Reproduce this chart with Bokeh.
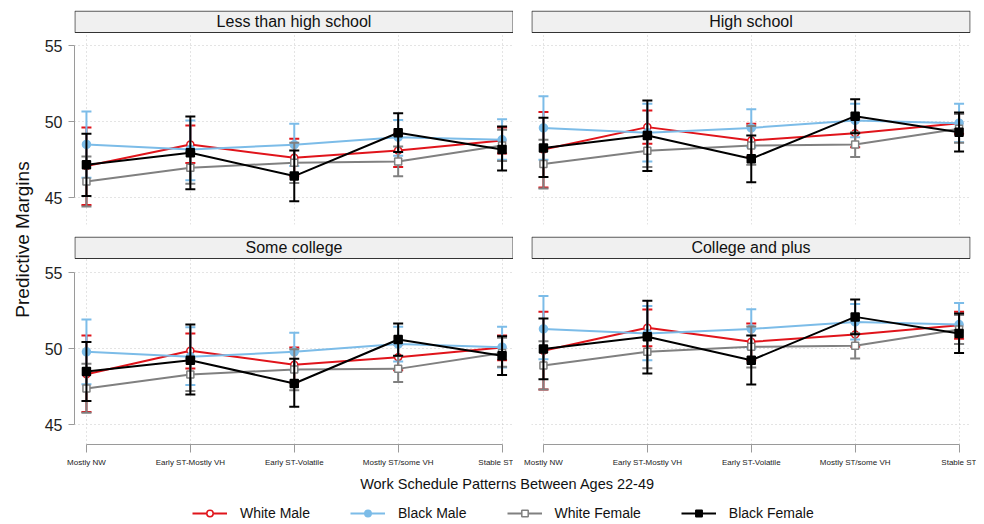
import math
from bokeh.plotting import figure
from bokeh.layouts import row, column
from bokeh.models import (Range1d, FixedTicker, Grid, Legend, LegendItem,
                          LinearAxis, ColumnDataSource)
from bokeh.core.properties import value
from bokeh.embed import file_html
from bokeh.resources import INLINE

# ---------------- data ----------------
categories = ["Mostly NW", "Early ST-Mostly VH", "Early ST-Volatile",
              "Mostly ST/some VH", "Stable ST"]
panels = ["Less than high school", "High school", "Some college", "College and plus"]
series = ["White Male", "Black Male", "White Female", "Black Female"]
y_ticks = [45, 50, 55]

white_male_mean = [[47.07, 48.49, 47.61, 48.10, 48.75],
                   [48.16, 49.63, 48.75, 49.23, 49.89],
                   [48.31, 49.85, 48.93, 49.43, 50.07],
                   [49.85, 51.36, 50.44, 50.92, 51.53]]
white_male_lo = [[44.50, 47.27, 46.40, 47.00, 47.90],
                 [45.65, 48.53, 47.66, 48.30, 49.20],
                 [45.83, 48.68, 47.76, 48.57, 49.23],
                 [47.30, 50.15, 49.23, 50.11, 50.64]]
white_male_hi = [[49.60, 49.74, 48.86, 49.20, 49.60],
                 [50.63, 50.72, 49.85, 50.18, 50.50],
                 [50.86, 50.99, 50.07, 50.26, 50.86],
                 [52.41, 52.57, 51.64, 51.75, 52.41]]

black_male_mean = [[48.49, 48.16, 48.47, 48.97, 48.80],
                   [49.58, 49.26, 49.58, 50.07, 49.89],
                   [49.78, 49.45, 49.78, 50.29, 50.09],
                   [51.29, 50.99, 51.29, 51.75, 51.58]]
black_male_lo = [[46.30, 46.13, 47.07, 47.75, 47.48],
                 [47.48, 47.37, 48.30, 48.97, 48.64],
                 [47.65, 47.60, 48.57, 49.14, 48.75],
                 [49.30, 49.23, 50.00, 50.59, 50.29]]
black_male_hi = [[50.66, 50.07, 49.85, 50.10, 50.15],
                 [51.66, 51.16, 50.81, 51.16, 51.16],
                 [51.90, 51.40, 51.03, 51.43, 51.43],
                 [53.46, 52.79, 52.59, 52.92, 53.00]]

white_female_mean = [[46.06, 46.96, 47.29, 47.37, 48.42],
                     [47.20, 48.07, 48.42, 48.49, 49.52],
                     [47.37, 48.29, 48.62, 48.66, 49.71],
                     [48.88, 49.78, 50.11, 50.18, 51.25]]
white_female_lo = [[44.40, 45.90, 45.95, 46.40, 47.40],
                   [45.60, 47.00, 47.15, 47.66, 48.60],
                   [45.77, 47.20, 47.26, 47.80, 48.80],
                   [47.30, 48.70, 48.75, 49.34, 50.30]]
white_female_hi = [[47.70, 48.00, 48.60, 48.35, 49.45],
                   [48.80, 49.10, 49.70, 49.30, 50.50],
                   [49.00, 49.35, 49.95, 49.50, 50.70],
                   [50.48, 50.85, 51.45, 51.00, 52.20]]

black_female_mean = [[47.15, 47.94, 46.41, 49.26, 48.16],
                     [48.25, 49.08, 47.55, 50.35, 49.30],
                     [48.49, 49.23, 47.70, 50.59, 49.52],
                     [49.96, 50.77, 49.23, 52.08, 50.99]]
black_female_lo = [[45.10, 45.54, 44.75, 47.99, 46.78],
                   [46.35, 46.74, 46.00, 49.23, 48.03],
                   [46.54, 46.97, 46.16, 49.52, 48.25],
                   [47.98, 48.36, 47.63, 50.94, 49.71]]
black_female_hi = [[49.20, 50.33, 48.10, 50.55, 49.67],
                   [50.24, 51.38, 49.08, 51.47, 50.60],
                   [50.42, 51.58, 49.32, 51.64, 50.81],
                   [51.97, 53.14, 50.86, 53.22, 52.30]]

# ---------------- styles ----------------
FONT = "Liberation Sans"
styles = {
    "White Male":   dict(color="#e0141b", marker="circle", fill="white", size=7),
    "Black Male":   dict(color="#7cbce8", marker="circle", fill="#7cbce8", size=8),
    "White Female": dict(color="#808080", marker="square", fill="white", size=7),
    "Black Female": dict(color="#000000", marker="square", fill="#000000", size=8),
}
data = {
    "White Male": (white_male_mean, white_male_lo, white_male_hi),
    "Black Male": (black_male_mean, black_male_lo, black_male_hi),
    "White Female": (white_female_mean, white_female_lo, white_female_hi),
    "Black Female": (black_female_mean, black_female_lo, black_female_hi),
}

PXU = 15.2           # pixels per y unit
X0, X1 = -0.115, 4.11
FRAME_W = 439


def make_panel(k, left, bottom, top_row):
    if top_row:
        height, b_top, b_bot = 236, 10, 12
        y_end = 55 + 35 / PXU
        y_start = 45 - 27 / PXU
        head_bot = 55 + 13 / PXU
    else:
        height, b_top, b_bot = 236, 0, 28
        y_end = 55 + 36 / PXU
        y_start = 45 - 20 / PXU
        head_bot = 55 + 14 / PXU
    if left:
        b_left, b_right = 36, 0
    else:
        b_left, b_right = 18, 6
    width = b_left + FRAME_W + b_right
    p = figure(width=width, height=height, output_backend="svg",
               toolbar_location=None, x_range=Range1d(X0, X1),
               y_range=Range1d(y_start, y_end),
               x_axis_location=None, y_axis_location=None,
               min_border_left=b_left, min_border_right=b_right,
               min_border_top=b_top, min_border_bottom=b_bot)
    p.outline_line_color = None
    for r in list(p.center):
        if isinstance(r, Grid):
            p.center.remove(r)
    p.add_layout(Grid(dimension=0, ticker=FixedTicker(ticks=list(range(len(categories)))),
                      grid_line_color="#c8c8c8", grid_line_dash="1 3", grid_line_width=1))
    p.add_layout(Grid(dimension=1, ticker=FixedTicker(ticks=y_ticks),
                      grid_line_color="#c8c8c8", grid_line_dash="1 3", grid_line_width=1))
    if left:
        ax = LinearAxis(ticker=FixedTicker(ticks=y_ticks), bounds=(45, 55))
        ax.axis_line_color = "#9a9a9a"
        ax.major_tick_line_color = "#9a9a9a"
        ax.major_tick_out = 6
        ax.major_tick_in = 0
        ax.minor_tick_line_color = None
        ax.major_label_standoff = 6
        ax.major_label_text_font = FONT
        ax.major_label_text_font_size = "16px"
        ax.major_label_text_color = "#222222"
        p.add_layout(ax, "left")
    if bottom:
        ax = LinearAxis(ticker=FixedTicker(ticks=list(range(len(categories)))),
                        bounds=(0, len(categories) - 1))
        ax.major_label_overrides = {i: c for i, c in enumerate(categories)}
        ax.axis_line_color = "#9a9a9a"
        ax.major_tick_line_color = "#9a9a9a"
        ax.major_tick_out = 8
        ax.major_tick_in = 0
        ax.minor_tick_line_color = None
        ax.major_label_standoff = 5
        ax.major_label_text_font = FONT
        ax.major_label_text_font_size = "8px"
        ax.major_label_text_color = "#222222"
        p.add_layout(ax, "below")

    # strip header
    dx = 0.004
    p.quad(left=[X0 + dx], right=[X1 - dx], bottom=[head_bot], top=[y_end - 0.6 / PXU],
           fill_color="#f0f0f0", line_color="#333333", line_width=1)
    p.text(x=[(X0 + X1) / 2], y=[(head_bot + y_end) / 2], text=[panels[k]],
           text_font=value(FONT), text_font_size="16px", text_color="#111111",
           text_align="center", text_baseline="middle")

    xs = list(range(len(categories)))
    for s in series:
        st = styles[s]
        mean, lo, hi = data[s]
        p.segment(x0=xs, y0=lo[k], x1=xs, y1=hi[k], line_color=st["color"], line_width=2)
        p.scatter(xs, lo[k], marker="dash", size=10, line_color=st["color"], line_width=2)
        p.scatter(xs, hi[k], marker="dash", size=10, line_color=st["color"], line_width=2)
        p.line(xs, mean[k], line_color=st["color"], line_width=2)
        p.scatter(xs, mean[k], marker=st["marker"], size=st["size"],
                  fill_color=st["fill"], line_color=st["color"], line_width=1.5)
    return p


tl = make_panel(0, True, False, True)
tr = make_panel(1, False, False, True)
bl = make_panel(2, True, True, False)
br = make_panel(3, False, True, False)

# y-axis title figure
LW, LH = 38, 472
ylab = figure(width=LW, height=LH, output_backend="svg", toolbar_location=None,
              x_range=Range1d(0, LW), y_range=Range1d(0, LH),
              x_axis_location=None, y_axis_location=None,
              min_border_left=0, min_border_right=0, min_border_top=0, min_border_bottom=0)
ylab.outline_line_color = None
ylab.grid.visible = False
ylab.text(x=[22], y=[LH - 239], text=["Predictive Margins"], angle=math.pi / 2,
          text_font=value(FONT), text_font_size="19px", text_color="#111111",
          text_align="center", text_baseline="middle")

# footer: x title + legend
FW, FH = 976, 52
foot = figure(width=FW, height=FH, output_backend="svg", toolbar_location=None,
              x_range=Range1d(0, FW), y_range=Range1d(0, FH),
              x_axis_location=None, y_axis_location=None,
              min_border_left=0, min_border_right=0, min_border_top=0, min_border_bottom=0)
foot.outline_line_color = None
foot.grid.visible = False
foot.text(x=[507], y=[FH - 11], text=["Work Schedule Patterns Between Ages 22-49"],
          text_font=value(FONT), text_font_size="14.5px", text_color="#111111",
          text_align="center", text_baseline="middle")
items = []
nan = float("nan")
for s in series:
    st = styles[s]
    src = ColumnDataSource(data=dict(x=[nan], y=[nan]))
    lr = foot.line("x", "y", source=src, line_color=st["color"], line_width=2)
    sr = foot.scatter("x", "y", source=src, marker=st["marker"], size=st["size"],
                      fill_color=st["fill"], line_color=st["color"], line_width=1.5)
    items.append(LegendItem(label=s, renderers=[lr, sr]))
leg = Legend(items=items, orientation="horizontal", location=(192, 3),
             glyph_width=35, glyph_height=16, label_height=16, label_standoff=13,
             spacing=40, padding=0, margin=0, border_line_color=None,
             background_fill_alpha=0, label_text_font=FONT,
             label_text_font_size="14px", label_text_color="#111111")
foot.add_layout(leg)

layout = column(row(ylab, column(row(tl, tr), row(bl, br))), foot)

open("out.html", "w").write(file_html(layout, INLINE))
